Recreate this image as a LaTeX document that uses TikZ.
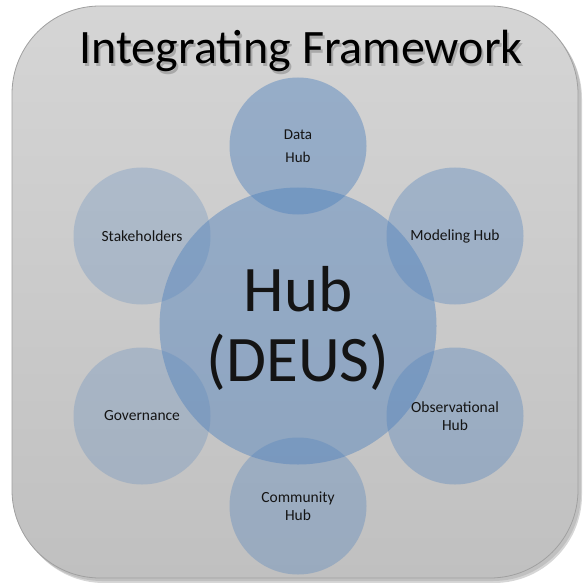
\documentclass[tikz,border=0pt]{standalone}
\usepackage{fontspec}
\setmainfont{Carlito}
\definecolor{panelTop}{RGB}{213,213,213}
\definecolor{panelBot}{RGB}{192,192,192}
\definecolor{panelEdge}{RGB}{160,160,160}
\definecolor{hubBlue}{RGB}{79,129,189}
\definecolor{inkText}{RGB}{20,20,20}
\tikzset{
  panel/.style={draw=panelEdge, line width=0.8bp, rounded corners=88bp,
    top color=panelTop, bottom color=panelBot},
  satellite/.style={circle, fill=hubBlue, fill opacity=#1, draw=none,
    minimum size=137bp, inner sep=0pt},
  core/.style={circle, fill=hubBlue, fill opacity=0.45, draw=none,
    minimum size=277bp, inner sep=0pt},
  smalltext/.style={text=inkText, align=center,
    font=\fontsize{15.5bp}{18bp}\selectfont},
  bigtext/.style={text=inkText, align=center,
    font=\fontsize{65bp}{70bp}\selectfont},
  titletext/.style={font=\fontsize{48bp}{52bp}\selectfont}
}
\begin{document}
\begin{tikzpicture}[x=1bp, y=-1bp]
  \useasboundingbox (0,0) rectangle (583,583);
  % panel shadow and panel
  \fill[black, opacity=0.16, rounded corners=88bp] (16,11) rectangle (582,583);
  \fill[black, opacity=0.10, rounded corners=88bp] (14,9) rectangle (581,581);
  \path[panel] (12,6) rectangle (578,578);
  % title with soft shadow
  \node[titletext, text=black, opacity=0.2] (titleshadow) at (303,54) {Integrating Framework};
  \node[titletext, text=black] (title) at (301,51) {Integrating Framework};
  % circles
  \node[core] (hub) at (298,326) {};
  \node[satellite=0.45] (data) at (298,146) {};
  \node[satellite=0.36] (model) at (455,236) {};
  \node[satellite=0.36] (obs) at (455,416) {};
  \node[satellite=0.34] (comm) at (298,506) {};
  \node[satellite=0.26] (gov) at (142,416) {};
  \node[satellite=0.26] (stake) at (142,236) {};
  % labels
  \node[bigtext] (hubtext) at ([yshift=-2bp]hub) {Hub\\(DEUS)};
  \node[smalltext, font=\fontsize{15bp}{23bp}\selectfont] (datatext) at (data) {Data\\Hub};
  \node[smalltext] (modeltext) at (model) {Modeling Hub};
  \node[smalltext] (obstext) at (obs) {Observational\\Hub};
  \node[smalltext] (commtext) at (comm) {Community\\Hub};
  \node[smalltext] (govtext) at (gov) {Governance};
  \node[smalltext] (staketext) at (stake) {Stakeholders};
\end{tikzpicture}
\end{document}
